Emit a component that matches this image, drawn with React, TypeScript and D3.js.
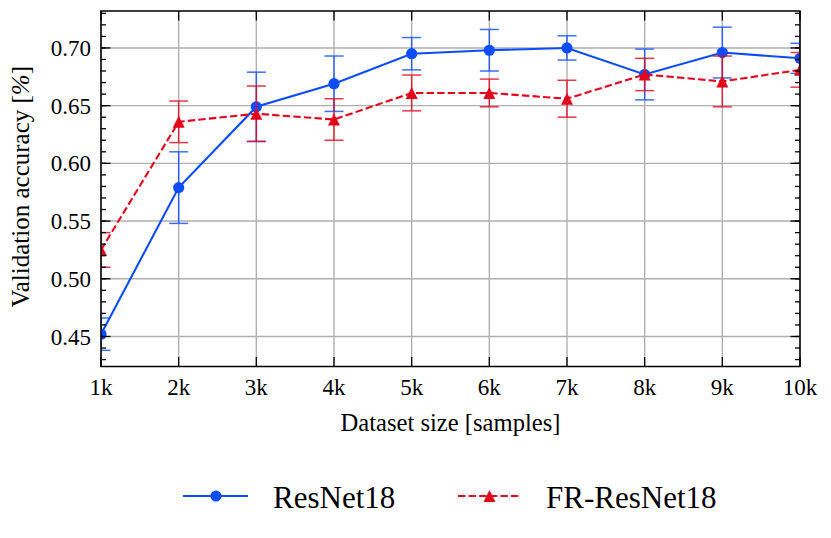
import React from "react";
import * as d3 from "d3";

const sizes = [1, 2, 3, 4, 5, 6, 7, 8, 9, 10];
const resnet = [0.452, 0.579, 0.649, 0.669, 0.695, 0.698, 0.7, 0.677, 0.696, 0.691];
const resnetErr = [0.014, 0.031, 0.03, 0.024, 0.014, 0.018, 0.0105, 0.022, 0.022, 0.013];
const frResnet = [0.525, 0.636, 0.643, 0.638, 0.661, 0.661, 0.656, 0.677, 0.671, 0.681];
const frResnetErr = [0.015, 0.018, 0.024, 0.018, 0.0155, 0.012, 0.016, 0.014, 0.022, 0.015];
const yTicks = [0.45, 0.5, 0.55, 0.6, 0.65, 0.7];
const xTickLabels = sizes.map((s) => `${s}k`);
const seriesNames = ["ResNet18", "FR-ResNet18"];

const W = 831;
const H = 538;
const M = { left: 101, right: 800, top: 11, bottom: 366.5 };
const BLUE = "#0c4dff";
const RED = "#e4051d";
const FONT = "'Liberation Serif', 'Times New Roman', serif";

const lo = Math.min(...resnet.map((v, i) => v - resnetErr[i]), ...frResnet.map((v, i) => v - frResnetErr[i]));
const hi = Math.max(...resnet.map((v, i) => v + resnetErr[i]), ...frResnet.map((v, i) => v + frResnetErr[i]));
const pad = (hi - lo) * 0.05;

const x = d3.scaleLinear().domain([1, 10]).range([M.left, M.right]);
const y = d3.scaleLinear().domain([lo - pad, hi + pad]).range([M.bottom, M.top]);

const minorTicks = d3.range(0.43, 0.735, 0.01).map((v) => Math.round(v * 100) / 100).filter((v) => v >= y.domain()[0] && v <= y.domain()[1]);

const line = d3.line<number>().x((_, i) => x(sizes[i])).y((d) => y(d));

const tri = (cx: number, cy: number, s = 12) =>
  `M${cx},${cy - s / 2}L${cx + s / 2},${cy + s / 2}L${cx - s / 2},${cy + s / 2}Z`;

function ErrorBars({ vals, errs, color }: { vals: number[]; errs: number[]; color: string }) {
  return (
    <g stroke={color} strokeWidth={1.5} opacity={0.8}>
      {vals.map((v, i) => {
        const cx = x(sizes[i]);
        const y1 = y(v + errs[i]);
        const y2 = y(v - errs[i]);
        return (
          <g key={i}>
            <line x1={cx} x2={cx} y1={y1} y2={y2} />
            <line x1={cx - 9.5} x2={cx + 9.5} y1={y1} y2={y1} />
            <line x1={cx - 9.5} x2={cx + 9.5} y1={y2} y2={y2} />
          </g>
        );
      })}
    </g>
  );
}

export default function App() {
  return (
    <svg width={W} height={H} style={{ position: "absolute", left: 0, top: 0, background: "#fff" }} fontFamily={FONT}>
      <defs>
        <clipPath id="plot">
          <rect x={M.left} y={M.top} width={M.right - M.left} height={M.bottom - M.top} />
        </clipPath>
      </defs>
      {/* grid */}
      <g stroke="#b0b0b0" strokeWidth={1.4}>
        {sizes.map((s) => (
          <line key={s} x1={x(s)} x2={x(s)} y1={M.top} y2={M.bottom} />
        ))}
        {yTicks.map((t) => (
          <line key={t} x1={M.left} x2={M.right} y1={y(t)} y2={y(t)} />
        ))}
      </g>
      {/* data */}
      <g clipPath="url(#plot)">
        <ErrorBars vals={resnet} errs={resnetErr} color={BLUE} />
        <path d={line(resnet) || ""} fill="none" stroke={BLUE} strokeWidth={2.1} />
        {resnet.map((v, i) => (
          <circle key={i} cx={x(sizes[i])} cy={y(v)} r={5.6} fill={BLUE} />
        ))}
        <ErrorBars vals={frResnet} errs={frResnetErr} color={RED} />
        <path d={line(frResnet) || ""} fill="none" stroke={RED} strokeWidth={2.1} strokeDasharray="7.4,3.2" />
        {frResnet.map((v, i) => (
          <path key={i} d={tri(x(sizes[i]), y(v))} fill={RED} />
        ))}
      </g>
      {/* ticks */}
      <g stroke="#000" strokeWidth={1.3}>
        {sizes.map((s) => (
          <g key={s}>
            <line x1={x(s)} x2={x(s)} y1={M.bottom} y2={M.bottom - 9.5} />
            <line x1={x(s)} x2={x(s)} y1={M.top} y2={M.top + 9.5} />
          </g>
        ))}
        {yTicks.map((t) => (
          <g key={t}>
            <line x1={M.left} x2={M.left + 9.5} y1={y(t)} y2={y(t)} />
            <line x1={M.right} x2={M.right - 9.5} y1={y(t)} y2={y(t)} />
          </g>
        ))}
        {minorTicks.map((t) => (
          <g key={t}>
            <line x1={M.left} x2={M.left + 5} y1={y(t)} y2={y(t)} />
            <line x1={M.right} x2={M.right - 5} y1={y(t)} y2={y(t)} />
          </g>
        ))}
      </g>
      <rect x={M.left} y={M.top} width={M.right - M.left} height={M.bottom - M.top} fill="none" stroke="#000" strokeWidth={1.5} />
      {/* tick labels */}
      <g fontSize={23} fill="#000">
        {sizes.map((s, i) => (
          <text key={s} x={x(s)} y={395} textAnchor="middle">
            {xTickLabels[i]}
          </text>
        ))}
        {yTicks.map((t) => (
          <text key={t} x={91} y={y(t)} dy="0.35em" textAnchor="end">
            {d3.format(".2f")(t)}
          </text>
        ))}
      </g>
      <text x={(M.left + M.right) / 2} y={431} fontSize={24.6} textAnchor="middle" fill="#000">
        Dataset size [samples]
      </text>
      <text transform={`translate(29,${(M.top + M.bottom) / 2 - 2}) rotate(-90)`} fontSize={25} textAnchor="middle" fill="#000">
        Validation accuracy [<tspan fontStyle="italic">%</tspan>]
      </text>
      {/* legend */}
      <g>
        <line x1={183} x2={248} y1={496} y2={496} stroke={BLUE} strokeWidth={2.1} />
        <circle cx={216} cy={496} r={5.6} fill={BLUE} />
        <text x={273} y={508} fontSize={31} fill="#000">{seriesNames[0]}</text>
        <line x1={458} x2={521} y1={496} y2={496} stroke={RED} strokeWidth={2.1} strokeDasharray="7.4,3.2" />
        <path d={tri(489.5, 496)} fill={RED} />
        <text x={546} y={508} fontSize={31} fill="#000">{seriesNames[1]}</text>
      </g>
    </svg>
  );
}
